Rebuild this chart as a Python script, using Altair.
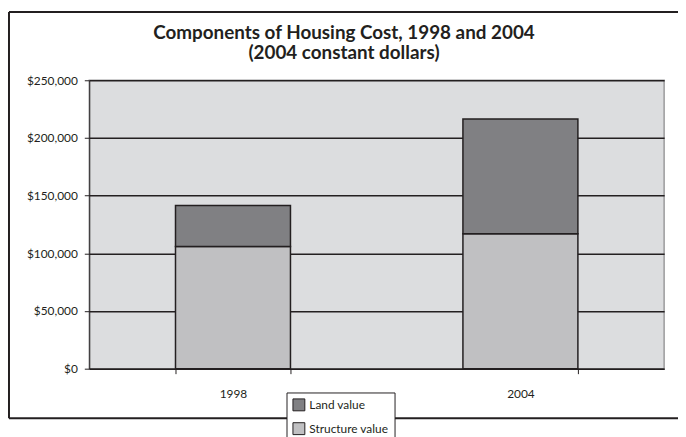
import altair as alt
import pandas as pd

years = ["1998", "2004"]
structure_value = [106000, 117000]
land_value = [35500, 99500]
components = ["Land value", "Structure value"]
component_colors = ["#808083", "#c0c0c2"]

rows = []
for yr, s, l in zip(years, structure_value, land_value):
    rows.append({"year": yr, "component": "Structure value", "value": s, "order": 0})
    rows.append({"year": yr, "component": "Land value", "value": l, "order": 1})
df = pd.DataFrame(rows)

FONT = "Lato"
INK = "#231f20"

bars = alt.Chart(df).mark_bar(stroke=INK, strokeWidth=1.5).encode(
    x=alt.X("year:N", sort=years,
            scale=alt.Scale(paddingInner=0.6, paddingOuter=0.3),
            axis=alt.Axis(title=None, labelAngle=0, tickBand="extent", tickSize=5,
                          labelPadding=15, domainColor=INK, tickColor=INK,
                          labelColor=INK, labelFont=FONT, labelFontSize=12,
                          grid=False)),
    y=alt.Y("value:Q", stack="zero",
            scale=alt.Scale(domain=[0, 250000], nice=False),
            axis=alt.Axis(title=None, values=[0, 50000, 100000, 150000, 200000, 250000],
                          format="$,.0f", tickSize=5, labelPadding=7,
                          domainColor=INK, tickColor=INK, labelColor=INK,
                          labelFont=FONT, labelFontSize=12,
                          gridColor=INK, gridWidth=1.5)),
    color=alt.Color("component:N",
                    scale=alt.Scale(domain=components, range=component_colors),
                    legend=alt.Legend(title=None, orient="none", legendX=199, legendY=315,
                                      direction="vertical",
                                      strokeColor=INK, fillColor="white", padding=6,
                                      symbolType="square", symbolSize=144,
                                      symbolStrokeColor=INK, symbolStrokeWidth=1,
                                      labelFont=FONT, labelFontSize=12, labelColor=INK,
                                      labelOffset=4, rowPadding=7)),
    order=alt.Order("order:Q", sort="ascending"),
)

one = alt.Data(values=[{"k": 1}])
border_top = alt.Chart(one).mark_rule(color=INK, strokeWidth=2).encode(
    x=alt.value(-81), x2=alt.value(700), y=alt.value(-69))
border_bottom = alt.Chart(one).mark_rule(color=INK, strokeWidth=2).encode(
    x=alt.value(-81), x2=alt.value(700), y=alt.value(341))
border_left = alt.Chart(one).mark_rule(color=INK, strokeWidth=2).encode(
    x=alt.value(-81), y=alt.value(-69), y2=alt.value(341))

chart = alt.layer(border_top, border_bottom, border_left, bars).properties(
    width=580, height=291,
    autosize="none",
    padding={"left": 82, "top": 71, "right": 14, "bottom": 67},
    title=alt.TitleParams(
        text=["Components of Housing Cost, 1998 and 2004", "(2004 constant dollars)"],
        font=FONT, fontSize=19, fontWeight="bold", color=INK,
        anchor="middle", dx=-33, offset=-53, lineHeight=21),
).configure(
    background="white",
    view=alt.ViewConfig(fill="#dcdddf", stroke="#9a9a9c", strokeWidth=1.5),
)

chart.save("out.html", embed_options={"renderer": "svg", "actions": False})
